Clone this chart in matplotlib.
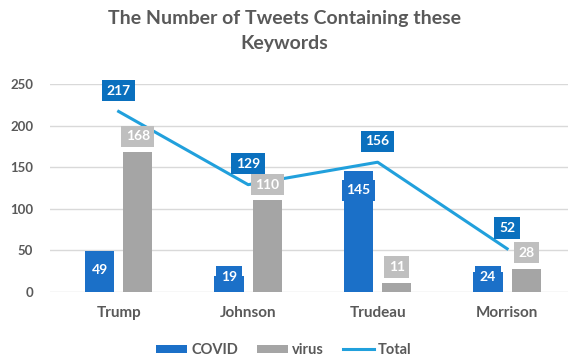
import matplotlib
matplotlib.use("Agg")
import matplotlib.pyplot as plt
import numpy as np
from matplotlib.lines import Line2D
from matplotlib.patches import Patch

categories = ["Trump", "Johnson", "Trudeau", "Morrison"]
covid = [49, 19, 145, 24]
virus = [168, 110, 11, 28]
total = [217, 129, 156, 52]
yticks = [0, 50, 100, 150, 200, 250]

C_COVID = "#1b70c8"
C_VIRUS = "#a5a5a5"
C_LINE = "#21a0dc"
C_TOTBOX = "#0a70be"
C_VIRBOX = "#bfbfbf"
TXT = "#595959"
FONT = "Lato"

plt.rcParams['font.family'] = [FONT, 'DejaVu Sans']

fig = plt.figure(figsize=(5.68, 3.58), dpi=100)
ax = fig.add_axes([50/568, (358-292)/358, 518/568, (292-84)/358])

x = np.arange(len(categories))
w = 0.225
off = 0.1475
ax.bar(x - off, covid, w, color=C_COVID, zorder=2, label="COVID")
ax.bar(x + off, virus, w, color=C_VIRUS, zorder=2, label="virus")
ax.plot(x, total, color=C_LINE, lw=2.2, zorder=3, label="Total")

ax.set_xlim(-0.53, 3.47)
ax.set_ylim(0, 250)
ax.set_yticks(yticks)
ax.set_yticklabels([str(t) for t in yticks], fontsize=9.5, fontweight="bold", color=TXT)
ax.set_xticks(x)
ax.set_xticklabels(categories, fontsize=11, fontweight="bold", color=TXT)
ax.tick_params(length=0)
ax.tick_params(axis="x", pad=10)
ax.tick_params(axis="y", pad=12)
for s in ax.spines.values():
    s.set_visible(False)
ax.grid(axis="y", color="#d9d9d9", lw=1, zorder=0)
ax.set_axisbelow(True)

def box(xx, yy, txt, fc, tc="white"):
    ax.text(xx, yy, txt, ha="center", va="center", fontsize=10, fontweight="bold",
            color=tc, zorder=5,
            bbox=dict(boxstyle="square,pad=0.33", fc=fc, ec="none"))

for i in range(len(categories)):
    box(x[i] - off, max(covid[i] - 23, 18), str(covid[i]), C_COVID)
    box(x[i] + off, virus[i] + 19, str(virus[i]), C_VIRBOX)
    box(x[i], total[i] + 25, str(total[i]), C_TOTBOX)

fig.text(0.5, 0.972, "The Number of Tweets Containing these\nKeywords", ha="center", va="top",
         fontsize=14, fontweight="bold", color=TXT, linespacing=1.55)

handles = [Patch(fc=C_COVID, ec="none"), Patch(fc=C_VIRUS, ec="none"),
           Line2D([], [], color=C_LINE, lw=2.2)]
leg = fig.legend(handles, ["COVID", "virus", "Total"], loc="center", bbox_to_anchor=(0.5, 0.022),
                 ncol=3, frameon=False, handlelength=2.1, handleheight=0.55, handletextpad=0.3,
                 columnspacing=1.3, prop=dict(family=FONT, weight="bold", size=10.5))
for t in leg.get_texts():
    t.set_color(TXT)

fig.savefig("out.png", dpi=100)
